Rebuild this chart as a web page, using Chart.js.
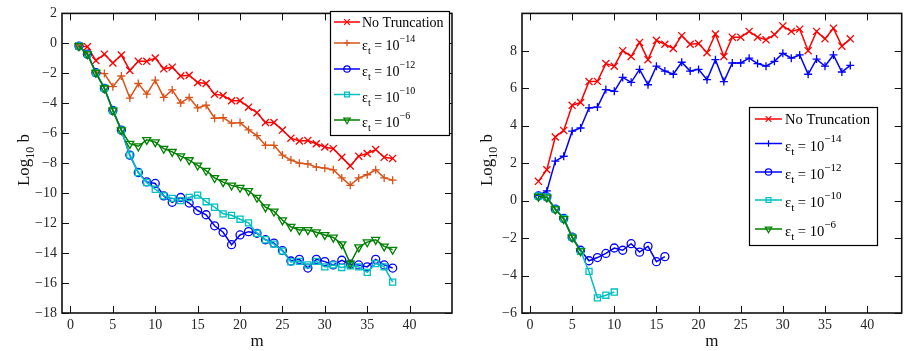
<!DOCTYPE html>
<html>
<head>
<meta charset="utf-8">
<script src="https://cdn.jsdelivr.net/npm/chart.js@4.4.0/dist/chart.umd.min.js"></script>
<style>
html, body { margin: 0; padding: 0; background: #fff; }
#wrap { position: relative; width: 908px; height: 351px; overflow: hidden; }
#left { position: absolute; left: 0; top: 0; }
#right { position: absolute; left: 462px; top: 0; }
</style>
</head>
<body>
<div id="wrap">
  <canvas id="left" width="460" height="351"></canvas>
  <canvas id="right" width="446" height="351"></canvas>
</div>
<script>
// m values (x axis)
var mVals = [1,2,3,4,5,6,7,8,9,10,11,12,13,14,15,16,17,18,19,20,21,22,23,24,25,26,27,28,29,30,31,32,33,34,35,36,37,38];

// left panel, Log10 b
var leftNoTrunc = [-0.18,-0.22,-1.15,-0.72,-1.31,-0.78,-1.81,-1.2,-1.2,-0.98,-1.7,-1.59,-2.18,-2.13,-2.61,-2.68,-3.39,-3.48,-3.83,-3.83,-4.26,-4.63,-5.28,-5.28,-5.79,-6.33,-6.52,-6.48,-6.7,-6.92,-7.03,-7.61,-8.18,-7.53,-7.35,-7.09,-7.61,-7.68];
var leftEps14 = [-0.18,-0.72,-1.92,-2.02,-2.89,-2.18,-3.65,-2.68,-3.39,-2.46,-3.61,-3.11,-3.98,-3.61,-4.31,-4.13,-5.0,-4.96,-5.33,-5.29,-5.77,-6.16,-6.81,-6.81,-7.46,-7.79,-8.0,-8.05,-8.26,-8.33,-8.44,-8.98,-9.48,-8.98,-8.77,-8.44,-8.98,-9.13];
var leftEps12 = [-0.18,-0.72,-1.96,-3.0,-4.48,-5.79,-7.46,-8.62,-9.25,-9.35,-10.18,-10.61,-10.29,-10.66,-11.16,-11.44,-12.18,-12.61,-13.44,-12.79,-12.57,-12.68,-13.11,-13.33,-13.83,-14.53,-14.42,-15.0,-14.42,-14.57,-14.79,-14.48,-14.74,-14.79,-14.92,-14.42,-14.79,-15.0];
var leftEps10 = [-0.18,-0.72,-1.96,-3.0,-4.48,-5.79,-7.46,-8.62,-9.3,-9.74,-10.18,-10.35,-10.5,-10.29,-10.13,-10.57,-10.94,-11.38,-11.48,-11.74,-11.98,-12.68,-13.11,-13.4,-13.87,-14.59,-14.55,-14.79,-14.55,-14.92,-14.79,-14.96,-14.85,-14.92,-15.29,-14.7,-14.92,-15.94];
var leftEps6 = [-0.18,-0.72,-1.96,-3.0,-4.48,-5.79,-6.7,-6.87,-6.44,-6.59,-7.03,-7.24,-7.53,-7.79,-8.15,-8.5,-8.98,-9.26,-9.48,-9.63,-9.85,-10.3,-10.94,-11.22,-11.81,-12.24,-12.46,-12.46,-12.61,-12.79,-12.96,-13.4,-14.7,-13.61,-13.27,-13.11,-13.55,-13.77];

// right panel, Log10 b
var rightNoTrunc = [1.03,1.65,3.4,3.75,5.09,5.24,6.36,6.37,7.32,7.18,8.01,7.7,8.45,7.53,8.56,8.35,8.13,8.81,8.35,8.39,7.9,8.9,7.7,8.73,8.73,9.04,8.73,8.59,8.87,9.33,9.04,9.16,8.01,9.04,8.64,9.21,8.25,8.64];
var rightEps14 = [0.28,0.52,2.11,2.37,3.71,3.88,4.95,5.0,5.93,5.84,6.58,6.32,7.01,6.19,7.18,6.92,6.75,7.39,6.92,7.01,6.46,7.53,6.36,7.35,7.35,7.61,7.32,7.18,7.44,7.87,7.61,7.78,6.75,7.56,7.18,7.78,6.87,7.22];
var rightEps12 = [0.25,0.2,-0.45,-0.95,-1.95,-2.65,-3.21,-3.04,-2.82,-2.53,-2.65,-2.3,-2.75,-2.44,-3.26,-2.99];
var rightEps10 = [0.25,0.2,-0.45,-0.95,-1.95,-2.7,-3.78,-5.19,-5.05,-4.88];
var rightEps6 = [0.22,0.17,-0.46,-0.98,-1.96,-2.7];

// ticks
var xTickVals = [0,5,10,15,20,25,30,35,40];
var leftYTicks = [-18,-16,-14,-12,-10,-8,-6,-4,-2,0,2];
var rightYTicks = [-6,-4,-2,0,2,4,6,8];

// legend texts
var noTruncLabel = 'No Truncation';
var epsExps = ['\u221214','\u221212','\u221210','\u22126'];

var FONT = 'Liberation Serif';

function pts(ys) {
  return ys.map(function(v, i) { return { x: mVals[i], y: v }; });
}

function ds(label, ys, color, style, radius, order) {
  return {
    label: label,
    data: pts(ys),
    borderColor: color,
    backgroundColor: color,
    borderWidth: 1.5,
    pointStyle: style,
    pointRadius: radius,
    pointHoverRadius: radius,
    pointBorderColor: color,
    pointBackgroundColor: 'rgba(0,0,0,0)',
    pointBorderWidth: 1.3,
    pointRotation: style == 'triangle' ? 180 : 0,
    tension: 0,
    order: order
  };
}

function drawMixed(ctx, parts, x, y, size) {
  // parts: [text, kind] kind: 'n' normal, 'sub', 'sup'
  parts.forEach(function(p) {
    var f = p[1] == 'n' ? size : Math.round(size * 0.72);
    var dy = p[1] == 'sub' ? size * 0.3 : (p[1] == 'sup' ? -size * 0.55 : 0);
    ctx.font = f + 'px "' + FONT + '"';
    ctx.fillText(p[0], x, y + dy);
    x += ctx.measureText(p[0]).width;
  });
}

function mixedWidth(ctx, parts, size) {
  var w = 0;
  parts.forEach(function(p) {
    var f = p[1] == 'n' ? size : Math.round(size * 0.72);
    ctx.font = f + 'px "' + FONT + '"';
    w += ctx.measureText(p[0]).width;
  });
  return w;
}

var framePlugin = {
  id: 'frame',
  afterDraw: function(chart, args, o) {
    var ctx = chart.ctx, a = chart.chartArea;
    var xs = chart.scales.x, ys = chart.scales.y;
    ctx.save();
    ctx.strokeStyle = '#111';
    ctx.lineWidth = 1;
    ctx.beginPath();
    xs.ticks.forEach(function(t) {
      var px = Math.round(xs.getPixelForValue(t.value)) + 0.5;
      ctx.moveTo(px, a.bottom); ctx.lineTo(px, a.bottom - 7);
      ctx.moveTo(px, a.top); ctx.lineTo(px, a.top + 7);
    });
    ys.ticks.forEach(function(t) {
      var py = Math.round(ys.getPixelForValue(t.value)) + 0.5;
      ctx.moveTo(a.left, py); ctx.lineTo(a.left + 7, py);
      ctx.moveTo(a.right, py); ctx.lineTo(a.right - 7, py);
    });
    ctx.stroke();
    ctx.lineWidth = 1.6;
    ctx.strokeRect(a.left, a.top, a.right - a.left, a.bottom - a.top);

    // axis titles
    ctx.fillStyle = '#111';
    ctx.textBaseline = 'alphabetic';
    ctx.textAlign = 'left';
    var yt = [['Log', 'n'], ['10', 'sub'], [' b', 'n']];
    ctx.save();
    ctx.translate(o.yTitleX, o.yTitleY);
    ctx.rotate(-Math.PI / 2);
    drawMixed(ctx, yt, -mixedWidth(ctx, yt, 17) / 2, 0, 17);
    ctx.restore();
    ctx.font = '17px "' + FONT + '"';
    ctx.textAlign = 'center';
    ctx.fillText('m', (a.left + a.right) / 2, o.xTitleY);
    ctx.textAlign = 'left';

    // legend
    var L = o.legend;
    ctx.fillStyle = '#fff';
    ctx.fillRect(L.x, L.y, L.w, L.h);
    ctx.strokeStyle = '#000';
    ctx.lineWidth = 1.2;
    ctx.strokeRect(L.x, L.y, L.w, L.h);
    chart.data.datasets.forEach(function(d, i) {
      var cy = L.rows[i];
      ctx.strokeStyle = d.borderColor;
      ctx.lineWidth = 1.5;
      ctx.beginPath();
      ctx.moveTo(L.s0, cy); ctx.lineTo(L.s1, cy);
      ctx.stroke();
      ctx.lineWidth = 1.2;
      ctx.fillStyle = 'rgba(0,0,0,0)';
      Chart.helpers.drawPoint(ctx, {
        pointStyle: d.pointStyle, rotation: d.pointRotation, radius: d.pointRadius * 0.8, borderWidth: 1.2
      }, (L.s0 + L.s1) / 2, cy);
      ctx.fillStyle = '#000';
      if (i == 0) {
        drawMixed(ctx, [[noTruncLabel, 'n']], L.tx, cy + 4.5, L.size);
      } else {
        drawMixed(ctx, [['\u03b5', 'n'], ['t', 'sub'], [' = 10', 'n'], [epsExps[i - 1], 'sup']], L.tx, cy + 7, L.size);
      }
    });
    ctx.restore();
  }
};

function makeChart(id, datasets, xr, yr, yTicks, yAxisW, pad, frameOpts) {
  return new Chart(document.getElementById(id), {
    type: 'line',
    data: { datasets: datasets },
    options: {
      responsive: false,
      animation: false,
      devicePixelRatio: 1,
      layout: { padding: pad },
      plugins: { legend: { display: false }, tooltip: { enabled: false }, frame: frameOpts },
      scales: {
        x: {
          type: 'linear', min: xr[0], max: xr[1],
          grid: { display: false, drawTicks: false },
          border: { display: false },
          afterBuildTicks: function(s) { s.ticks = xTickVals.map(function(v) { return { value: v }; }); },
          afterFit: function(s) { s.height = 38; },
          ticks: {
            padding: 4, color: '#262626', maxRotation: 0, autoSkip: false,
            font: { family: FONT, size: 14 },
            callback: function(v) { return String(v).replace('-', '\u2212'); }
          }
        },
        y: {
          type: 'linear', min: yr[0], max: yr[1],
          grid: { display: false, drawTicks: false },
          border: { display: false },
          afterBuildTicks: function(s) { s.ticks = yTicks.map(function(v) { return { value: v }; }); },
          afterFit: function(s) { s.width = yAxisW; },
          ticks: {
            padding: 5, color: '#262626', autoSkip: false,
            font: { family: FONT, size: 14 },
            callback: function(v) { return String(v).replace('-', '\u2212'); }
          }
        }
      }
    },
    plugins: [framePlugin]
  });
}

makeChart('left', [
  ds('No Truncation', leftNoTrunc, '#ff0000', 'crossRot', 5, 5),
  ds('1e-14', leftEps14, '#d95319', 'cross', 4, 4),
  ds('1e-12', leftEps12, '#0000ff', 'circle', 4, 3),
  ds('1e-10', leftEps10, '#00bfbf', 'rect', 4.3, 2),
  ds('1e-6', leftEps6, '#008000', 'triangle', 4.6, 1)
], [-1, 45], [-18, 2], leftYTicks, 62, { left: 0, right: 8, top: 6, bottom: 0 }, {
  yTitleX: 29, yTitleY: 160, xTitleY: 346,
  legend: { x: 330.5, y: 11.5, w: 119, h: 124, rows: [22, 43, 69, 94.5, 120], s0: 334, s1: 360, tx: 362, size: 14 }
});

makeChart('right', [
  ds('No Truncation', rightNoTrunc, '#ff0000', 'crossRot', 5, 5),
  ds('1e-14', rightEps14, '#0000ff', 'cross', 4, 4),
  ds('1e-12', rightEps12, '#0000ff', 'circle', 4, 3),
  ds('1e-10', rightEps10, '#00bfbf', 'rect', 4.3, 2),
  ds('1e-6', rightEps6, '#008000', 'triangle', 4.6, 1)
], [-0.95, 44.1], [-6, 10], rightYTicks, 60, { left: 0, right: 1, top: 3, bottom: 0 }, {
  yTitleX: 30, yTitleY: 160, xTitleY: 346,
  legend: { x: 287.5, y: 107.5, w: 128, h: 138, rows: [119, 143.5, 172, 200, 229], s0: 293, s1: 320, tx: 323, size: 14.6 }
});
</script>
</body>
</html>
